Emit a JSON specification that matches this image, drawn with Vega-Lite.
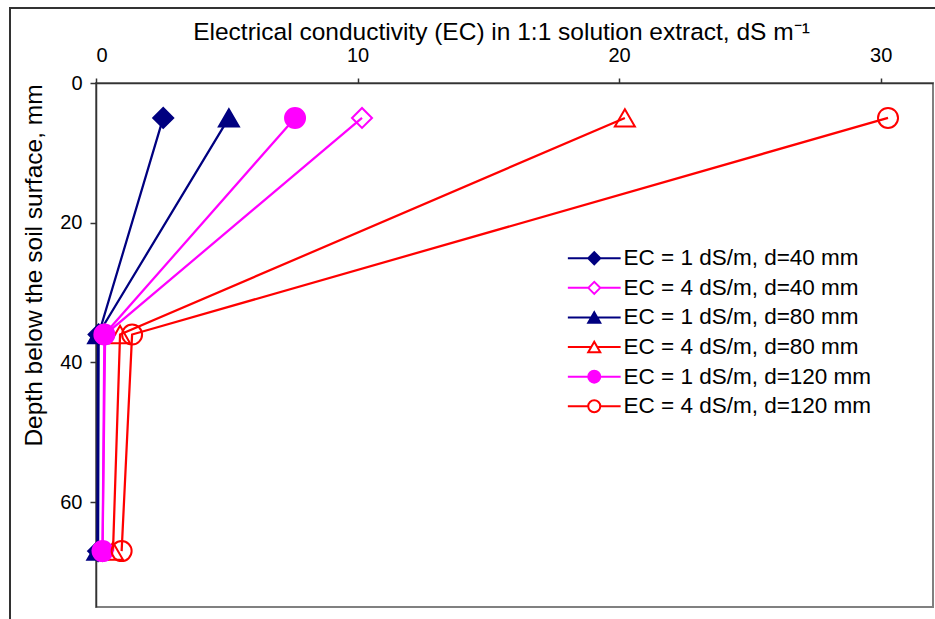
{
  "$schema": "https://vega.github.io/schema/vega-lite/v6.json",
  "width": 837,
  "height": 524,
  "autosize": {"type": "none"},
  "padding": {"left": 96, "top": 83, "right": 2, "bottom": 12},
  "background": "white",
  "config": {
    "font": "Liberation Sans",
    "view": {"stroke": "#808080", "strokeWidth": 2},
    "axis": {
      "grid": false,
      "domainColor": "#333333",
      "domainWidth": 1.5,
      "tickColor": "#333333",
      "tickWidth": 1.5,
      "labelColor": "#000000",
      "titleColor": "#000000",
      "labelFont": "Liberation Sans",
      "titleFont": "Liberation Sans",
      "labelFontSize": 20,
      "titleFontSize": 24.5,
      "titleFontWeight": "normal"
    }
  },
  "data": {
    "values": [
      {"series": "EC = 1 dS/m, d=40 mm", "depth": 5, "ec": 2.57},
      {"series": "EC = 1 dS/m, d=40 mm", "depth": 36, "ec": 0.1},
      {"series": "EC = 1 dS/m, d=40 mm", "depth": 67, "ec": 0.08},
      {"series": "EC = 4 dS/m, d=40 mm", "depth": 5, "ec": 10.17},
      {"series": "EC = 4 dS/m, d=40 mm", "depth": 36, "ec": 0.35},
      {"series": "EC = 4 dS/m, d=40 mm", "depth": 67, "ec": 0.25},
      {"series": "EC = 1 dS/m, d=80 mm", "depth": 5, "ec": 5.08},
      {"series": "EC = 1 dS/m, d=80 mm", "depth": 36, "ec": 0.08},
      {"series": "EC = 1 dS/m, d=80 mm", "depth": 67, "ec": 0.05},
      {"series": "EC = 4 dS/m, d=80 mm", "depth": 5, "ec": 20.22},
      {"series": "EC = 4 dS/m, d=80 mm", "depth": 36, "ec": 0.92},
      {"series": "EC = 4 dS/m, d=80 mm", "depth": 67, "ec": 0.65},
      {"series": "EC = 1 dS/m, d=120 mm", "depth": 5, "ec": 7.61},
      {"series": "EC = 1 dS/m, d=120 mm", "depth": 36, "ec": 0.32},
      {"series": "EC = 1 dS/m, d=120 mm", "depth": 67, "ec": 0.25},
      {"series": "EC = 4 dS/m, d=120 mm", "depth": 5, "ec": 30.28},
      {"series": "EC = 4 dS/m, d=120 mm", "depth": 36, "ec": 1.38},
      {"series": "EC = 4 dS/m, d=120 mm", "depth": 67, "ec": 0.98}
    ]
  },
  "layer": [
    {
      "description": "Chart-area frame",
      "mark": {"type": "rect", "fill": null, "stroke": "#333333", "strokeWidth": 1.5, "clip": false},
      "encoding": {
        "x": {
          "datum": -3.29, "type": "quantitative",
          "scale": {"domain": [0, 32], "nice": false, "zero": false},
          "axis": {"orient": "top", "values": [0, 10, 20, 30], "tickSize": 5, "labelPadding": 13, "titleX": 405, "titleY": -44, "titleBaseline": "alphabetic", "titleAlign": "center"},
          "title": "Electrical conductivity (EC) in 1:1 solution extract, dS m⁻¹"
        },
        "x2": {"datum": 40},
        "y": {
          "datum": -10.73, "type": "quantitative",
          "scale": {"domain": [0, 75], "reverse": true, "nice": false},
          "axis": {"values": [0, 20, 40, 60], "tickSize": 6, "labelPadding": 8, "titleX": -55, "titleY": 182, "titleBaseline": "alphabetic", "titleAlign": "center", "titleAngle": -90},
          "title": "Depth below the soil surface, mm"
        },
        "y2": {"datum": 90}
      }
    },
    {
      "mark": {"type": "line", "strokeWidth": 2.25},
      "encoding": {
        "x": {
          "field": "ec", "type": "quantitative",
          "scale": {"domain": [0, 32], "nice": false, "zero": false},
          "axis": {"orient": "top", "values": [0, 10, 20, 30], "tickSize": 5, "labelPadding": 13, "titleX": 405, "titleY": -44, "titleBaseline": "alphabetic", "titleAlign": "center"},
          "title": "Electrical conductivity (EC) in 1:1 solution extract, dS m⁻¹"
        },
        "y": {
          "field": "depth", "type": "quantitative",
          "scale": {"domain": [0, 75], "reverse": true, "nice": false},
          "axis": {"values": [0, 20, 40, 60], "tickSize": 6, "labelPadding": 8, "titleX": -55, "titleY": 182, "titleBaseline": "alphabetic", "titleAlign": "center", "titleAngle": -90},
          "title": "Depth below the soil surface, mm"
        },
        "stroke": {
          "field": "series", "type": "nominal", "legend": null,
          "scale": {
            "domain": ["EC = 1 dS/m, d=40 mm", "EC = 4 dS/m, d=40 mm", "EC = 1 dS/m, d=80 mm", "EC = 4 dS/m, d=80 mm", "EC = 1 dS/m, d=120 mm", "EC = 4 dS/m, d=120 mm"],
            "range": ["#000080", "#FF00FF", "#000080", "#FF0000", "#FF00FF", "#FF0000"]
          }
        },
        "detail": {"field": "series"},
        "order": {"field": "depth", "type": "quantitative"}
      }
    },
    {
      "mark": {"type": "point", "filled": true, "size": 400, "strokeWidth": 2, "opacity": 1},
      "encoding": {
        "x": {
          "field": "ec", "type": "quantitative",
          "scale": {"domain": [0, 32], "nice": false, "zero": false},
          "axis": {"orient": "top", "values": [0, 10, 20, 30], "tickSize": 5, "labelPadding": 13, "titleX": 405, "titleY": -44, "titleBaseline": "alphabetic", "titleAlign": "center"},
          "title": "Electrical conductivity (EC) in 1:1 solution extract, dS m⁻¹"
        },
        "y": {
          "field": "depth", "type": "quantitative",
          "scale": {"domain": [0, 75], "reverse": true, "nice": false},
          "axis": {"values": [0, 20, 40, 60], "tickSize": 6, "labelPadding": 8, "titleX": -55, "titleY": 182, "titleBaseline": "alphabetic", "titleAlign": "center", "titleAngle": -90},
          "title": "Depth below the soil surface, mm"
        },
        "stroke": {
          "field": "series", "type": "nominal", "legend": null,
          "scale": {
            "domain": ["EC = 1 dS/m, d=40 mm", "EC = 4 dS/m, d=40 mm", "EC = 1 dS/m, d=80 mm", "EC = 4 dS/m, d=80 mm", "EC = 1 dS/m, d=120 mm", "EC = 4 dS/m, d=120 mm"],
            "range": ["#000080", "#FF00FF", "#000080", "#FF0000", "#FF00FF", "#FF0000"]
          }
        },
        "fill": {
          "field": "series", "type": "nominal", "legend": null,
          "scale": {
            "domain": ["EC = 1 dS/m, d=40 mm", "EC = 4 dS/m, d=40 mm", "EC = 1 dS/m, d=80 mm", "EC = 4 dS/m, d=80 mm", "EC = 1 dS/m, d=120 mm", "EC = 4 dS/m, d=120 mm"],
            "range": ["#000080", "transparent", "#000080", "transparent", "#FF00FF", "transparent"]
          }
        },
        "shape": {
          "field": "series", "type": "nominal", "legend": null,
          "scale": {
            "domain": ["EC = 1 dS/m, d=40 mm", "EC = 4 dS/m, d=40 mm", "EC = 1 dS/m, d=80 mm", "EC = 4 dS/m, d=80 mm", "EC = 1 dS/m, d=120 mm", "EC = 4 dS/m, d=120 mm"],
            "range": ["diamond", "diamond", "triangle-up", "triangle-up", "circle", "circle"]
          }
        }
      }
    },
    {
      "description": "Legend layer: draws no points, only carries the legend with line-and-marker symbols",
      "transform": [{"filter": "datum.depth < 0"}],
      "mark": {"type": "point", "filled": true, "strokeWidth": 2, "opacity": 1},
      "encoding": {
        "stroke": {
          "field": "series", "type": "nominal",
          "legend": {"title": null, "orient": "none", "legendX": 487, "legendY": 164, "padding": 0, "labelFontSize": 22.5, "labelColor": "#000000", "labelFont": "Liberation Sans", "labelLimit": 400, "symbolSize": 144, "symbolStrokeWidth": 2, "labelOffset": 18, "rowPadding": 6.6},
          "scale": {
            "domain": ["EC = 1 dS/m, d=40 mm", "EC = 4 dS/m, d=40 mm", "EC = 1 dS/m, d=80 mm", "EC = 4 dS/m, d=80 mm", "EC = 1 dS/m, d=120 mm", "EC = 4 dS/m, d=120 mm"],
            "range": ["#000080", "#FF00FF", "#000080", "#FF0000", "#FF00FF", "#FF0000"]
          }
        },
        "fill": {
          "field": "series", "type": "nominal",
          "legend": {"title": null, "orient": "none", "legendX": 487, "legendY": 164, "padding": 0, "labelFontSize": 22.5, "labelColor": "#000000", "labelFont": "Liberation Sans", "labelLimit": 400, "symbolSize": 144, "symbolStrokeWidth": 2, "labelOffset": 18, "rowPadding": 6.6},
          "scale": {
            "domain": ["EC = 1 dS/m, d=40 mm", "EC = 4 dS/m, d=40 mm", "EC = 1 dS/m, d=80 mm", "EC = 4 dS/m, d=80 mm", "EC = 1 dS/m, d=120 mm", "EC = 4 dS/m, d=120 mm"],
            "range": ["#000080", "transparent", "#000080", "transparent", "#FF00FF", "transparent"]
          }
        },
        "shape": {
          "field": "series", "type": "nominal",
          "legend": {"title": null, "orient": "none", "legendX": 487, "legendY": 164, "padding": 0, "labelFontSize": 22.5, "labelColor": "#000000", "labelFont": "Liberation Sans", "labelLimit": 400, "symbolSize": 144, "symbolStrokeWidth": 2, "labelOffset": 18, "rowPadding": 6.6},
          "scale": {
            "domain": ["EC = 1 dS/m, d=40 mm", "EC = 4 dS/m, d=40 mm", "EC = 1 dS/m, d=80 mm", "EC = 4 dS/m, d=80 mm", "EC = 1 dS/m, d=120 mm", "EC = 4 dS/m, d=120 mm"],
            "range": [
              "M-4.4,0H-1M1,0H4.4M-1,0L0,-1L1,0L0,1Z",
              "M-4.4,0H-1M1,0H4.4M-1,0L0,-1L1,0L0,1Z",
              "M-4.4,0H-0.5M0.5,0H4.4M0,-0.87L-1,0.87L1,0.87Z",
              "M-4.4,0H-0.5M0.5,0H4.4M0,-0.87L-1,0.87L1,0.87Z",
              "M-4.4,0H-1M1,0H4.4M-1,0A1,1,0,1,0,1,0A1,1,0,1,0,-1,0Z",
              "M-4.4,0H-1M1,0H4.4M-1,0A1,1,0,1,0,1,0A1,1,0,1,0,-1,0Z"
            ]
          }
        }
      }
    }
  ],
  "resolve": {
    "scale": {"stroke": "independent", "fill": "independent", "shape": "independent"},
    "legend": {"stroke": "independent", "fill": "independent", "shape": "independent"}
  }
}
